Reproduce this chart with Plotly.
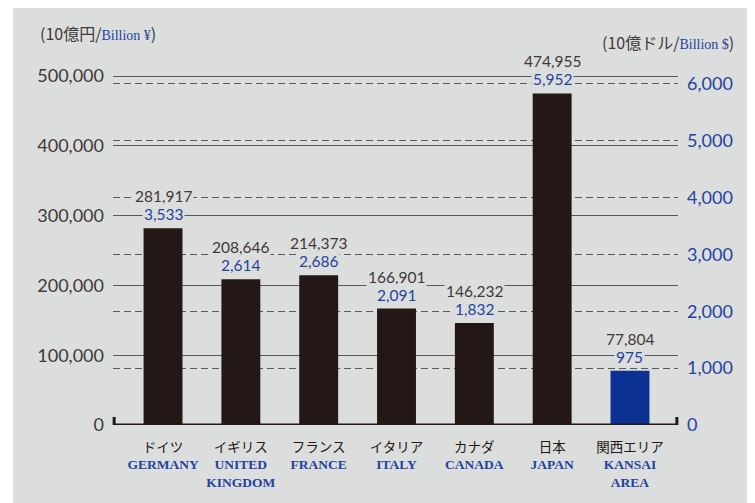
import plotly.graph_objects as go

# ---- data ----
cats_jp = ["ドイツ", "イギリス", "フランス", "イタリア", "カナダ", "日本", "関西エリア"]
cats_en = ["GERMANY", "UNITED<br>KINGDOM", "FRANCE", "ITALY", "CANADA", "JAPAN", "KANSAI<br>AREA"]
gdp_yen = [281917, 208646, 214373, 166901, 146232, 474955, 77804]   # 10億円
gdp_usd = [3533, 2614, 2686, 2091, 1832, 5952, 975]                 # 10億ドル
left_ticks = [0, 100000, 200000, 300000, 400000, 500000]
right_ticks = [0, 1000, 2000, 3000, 4000, 5000, 6000]

BG = "#dcdddd"
DARK = "#231815"
TXT = "#3e3a39"
BLUE = "#1f44a0"
KANSAI = "#0b3192"
GRID = "#595757"
SERIF = "Liberation Serif"
SANS = "Lato"
CJK = "Noto Sans CJK JP"

bar_colors = [DARK] * 6 + [KANSAI]

ticktext = [
    f"<span style='font-family:{CJK};color:{DARK}'>{j}</span><br>"
    + "<br>".join(f"<span style='font-family:{SERIF};color:{BLUE};font-weight:bold'>{p}</span>" for p in e.split("<br>"))
    for j, e in zip(cats_jp, cats_en)
]

fig = go.Figure()
fig.add_trace(go.Bar(x=cats_jp, y=gdp_yen, marker=dict(color=bar_colors, line=dict(width=0)),
                     width=0.5, hoverinfo="skip", showlegend=False))
# invisible trace to activate right axis
fig.add_trace(go.Scatter(x=cats_jp, y=gdp_usd, yaxis="y2", mode="markers",
                         marker=dict(opacity=0), hoverinfo="skip", showlegend=False))

annotations = []
for c, vy, vd in zip(cats_jp, gdp_yen, gdp_usd):
    annotations.append(dict(x=c, y=vy, xref="x", yref="y", text=f"{vy:,}", showarrow=False,
                            yanchor="middle", yshift=32, bgcolor=BG, borderpad=1,
                            font=dict(family=SANS, size=15.5, color=TXT)))
    annotations.append(dict(x=c, y=vy, xref="x", yref="y", text=f"{vd:,}", showarrow=False,
                            yanchor="middle", yshift=14, bgcolor=BG, borderpad=1,
                            font=dict(family=SANS, size=15.5, color=BLUE)))

annotations.append(dict(xref="paper", yref="paper", x=-0.1327, y=1.074, xanchor="left", yanchor="middle",
                        showarrow=False,
                        text=f"<span style='font-family:{CJK}'>(10億円/</span><span style='font-family:{SERIF};color:{BLUE};font-size:14px'>Billion ¥</span><span style='font-family:{CJK}'>)</span>",
                        font=dict(family=CJK, size=16, color=TXT)))
annotations.append(dict(xref="paper", yref="paper", x=0.862, y=1.049, xanchor="left", yanchor="middle",
                        showarrow=False,
                        text=f"<span style='font-family:{CJK}'>(10億ドル/</span><span style='font-family:{SERIF};color:{BLUE};font-size:14px'>Billion $</span><span style='font-family:{CJK}'>)</span>",
                        font=dict(family=CJK, size=16, color=TXT)))

# white left strip + bottom axis bracket
cap = 11500
shapes = [
    dict(type="rect", xref="paper", yref="paper", x0=-0.3, x1=-0.177, y0=-0.4, y1=1.4,
         fillcolor="white", line=dict(width=0), layer="below"),
    dict(type="path", xref="paper", yref="y", path=f"M 0.002,{cap} L 0.002,0 L 0.998,0 L 0.998,{cap}",
         line=dict(color=DARK, width=3), layer="above"),
]

fig.update_layout(
    width=755, height=495,
    margin=dict(l=105, r=85, t=52, b=78, autoexpand=False),
    paper_bgcolor=BG, plot_bgcolor=BG,
    bargap=0.5,
    xaxis=dict(range=[-0.643, 6.617], tickmode="array", tickvals=cats_jp, ticktext=ticktext,
               showgrid=False, zeroline=False, showline=False, ticks="", automargin=False,
               tickfont=dict(family=SERIF, size=13.5, color=DARK), ticklabelstandoff=12),
    yaxis=dict(range=[0, 522923], tickvals=left_ticks, tickformat=",d", showgrid=True,
               gridcolor=GRID, gridwidth=1.1, zeroline=False, showline=False, ticks="", automargin=False,
               tickfont=dict(family=SANS, size=18, color=TXT), ticklabelstandoff=8),
    yaxis2=dict(range=[0, 6422], overlaying="y", side="right", tickvals=right_ticks, tickformat=",d",
                showgrid=True, gridcolor=GRID, gridwidth=1.1, griddash="7px,4px", automargin=False,
                zeroline=False, showline=False, ticks="",
                tickfont=dict(family=SANS, size=18, color=BLUE), ticklabelstandoff=8),
    annotations=annotations, shapes=shapes,
)

fig.write_html("out.html")
